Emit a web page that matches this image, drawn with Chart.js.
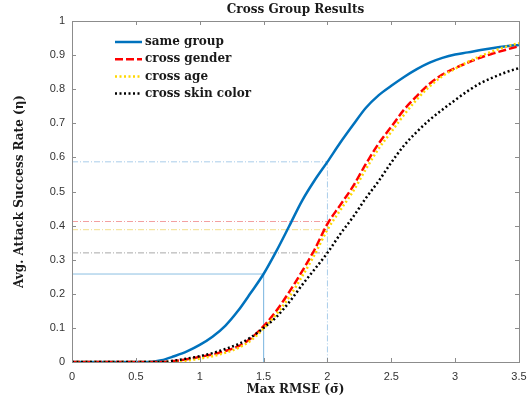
<!DOCTYPE html>
<html>
<head>
    <meta charset="UTF-8">
    <title>Cross Group Results</title>
    <script src="https://cdn.jsdelivr.net/npm/chart.js"></script>
    <style>
        body {
            margin: 0;
            padding: 0;
            background-color: #FFFFFF;
        }
        canvas {
            display: block;
        }
    </style>
</head>
<body>
<canvas id="cross-chart" width="529" height="400"></canvas>

<script>
    // Max RMSE values (x axis)
    const rmse = [0, 0.1, 0.2, 0.3, 0.4, 0.5, 0.6, 0.7, 0.8, 0.9,
        1.0, 1.1, 1.2, 1.3, 1.4, 1.5, 1.6, 1.7, 1.8, 1.9,
        2.0, 2.1, 2.2, 2.3, 2.4, 2.5, 2.6, 2.7, 2.8, 2.9,
        3.0, 3.1, 3.2, 3.3, 3.4, 3.5];

    // Avg. attack success rate per group
    const sameGroup = [0, 0, 0, 0, 0, 0, 0, 0.005, 0.017, 0.031,
        0.05, 0.074, 0.106, 0.15, 0.203, 0.258, 0.325, 0.398, 0.472, 0.533,
        0.587, 0.643, 0.695, 0.745, 0.782, 0.81, 0.836, 0.859, 0.878, 0.892,
        0.902, 0.908, 0.915, 0.921, 0.926, 0.93];
    const crossGender = [0, 0, 0, 0, 0, 0, 0, 0, 0.003, 0.008,
        0.015, 0.022, 0.032, 0.046, 0.069, 0.105, 0.15, 0.205, 0.265, 0.33,
        0.405, 0.46, 0.515, 0.58, 0.64, 0.69, 0.74, 0.78, 0.816, 0.843,
        0.862, 0.878, 0.893, 0.905, 0.916, 0.926];
    const crossAge = [0, 0, 0, 0, 0, 0, 0, 0, 0, 0.004,
        0.01, 0.017, 0.027, 0.041, 0.063, 0.098, 0.14, 0.19, 0.25, 0.315,
        0.388, 0.445, 0.5, 0.565, 0.625, 0.675, 0.725, 0.77, 0.808, 0.838,
        0.86, 0.88, 0.897, 0.912, 0.925, 0.935];
    const crossSkin = [0, 0, 0, 0, 0, 0, 0, 0, 0.004, 0.01,
        0.017, 0.026, 0.038, 0.052, 0.072, 0.1, 0.132, 0.175, 0.225, 0.272,
        0.32, 0.375, 0.425, 0.48, 0.53, 0.585, 0.635, 0.675, 0.71, 0.74,
        0.768, 0.795, 0.818, 0.835, 0.85, 0.862];

    const seriesNames = ['same group', 'cross gender', 'cross age', 'cross skin color'];

    // Reference guide lines: [rmse, rate]
    const guideSame15 = [[0, 0.258], [1.5, 0.258], [1.5, 0]];
    const guideSame20 = [[0, 0.587], [2, 0.587], [2, 0]];
    const guideGender20 = [[0, 0.412], [2, 0.412]];
    const guideAge20 = [[0, 0.388], [2, 0.388]];
    const guideSkin20 = [[0, 0.32], [2, 0.32]];

    const serifBold = 'bold 12px "DejaVu Serif", serif';
    const tickFont = { family: '"Liberation Sans", Arial, sans-serif', size: 11 };
    const axisColor = '#8c8c8c';

    function toPoints(xs, ys) {
        return xs.map((x, i) => ({ x: x, y: ys[i] }));
    }
    function guidePoints(pairs) {
        return pairs.map(p => ({ x: p[0], y: p[1] }));
    }

    function curve(label, values, color, dash, order) {
        return {
            label: label,
            data: toPoints(rmse, values),
            borderColor: color,
            borderWidth: 2.5,
            borderDash: dash,
            pointRadius: 0,
            cubicInterpolationMode: 'monotone',
            order: order
        };
    }
    function guide(points, color, dash) {
        return {
            label: '',
            data: guidePoints(points),
            borderColor: color,
            borderWidth: 1,
            borderDash: dash,
            pointRadius: 0,
            tension: 0,
            order: 10,
            isGuide: true
        };
    }

    const dashDot = [6, 2, 1, 2];

    // Box, inner ticks, titles and legend
    const decorPlugin = {
        id: 'decor',
        afterDraw(chart) {
            const ctx = chart.ctx;
            const area = chart.chartArea;
            const xs = chart.scales.x;
            const ys = chart.scales.y;
            ctx.save();
            ctx.strokeStyle = axisColor;
            ctx.lineWidth = 1;
            ctx.setLineDash([]);
            ctx.strokeRect(Math.round(area.left) + 0.5, Math.round(area.top) + 0.5,
                Math.round(area.right - area.left), Math.round(area.bottom - area.top));
            ctx.beginPath();
            xs.ticks.forEach(t => {
                const px = Math.round(xs.getPixelForValue(t.value)) + 0.5;
                ctx.moveTo(px, area.bottom);
                ctx.lineTo(px, area.bottom - 4);
                ctx.moveTo(px, area.top);
                ctx.lineTo(px, area.top + 4);
            });
            ys.ticks.forEach(t => {
                const py = Math.round(ys.getPixelForValue(t.value)) + 0.5;
                ctx.moveTo(area.left, py);
                ctx.lineTo(area.left + 4, py);
                ctx.moveTo(area.right, py);
                ctx.lineTo(area.right - 4, py);
            });
            ctx.stroke();

            ctx.fillStyle = '#1a1a1a';
            ctx.font = serifBold;
            ctx.textAlign = 'center';
            ctx.textBaseline = 'middle';
            ctx.fillText('Cross Group Results', (area.left + area.right) / 2, 10);
            ctx.fillText('Max RMSE (\u03C3\u0304)', (area.left + area.right) / 2, 390);
            ctx.save();
            ctx.translate(20, (area.top + area.bottom) / 2);
            ctx.rotate(-Math.PI / 2);
            ctx.fillText('Avg. Attack Success Rate (\u03B7)', 0, 0);
            ctx.restore();

            // legend
            ctx.textAlign = 'left';
            chart.data.datasets.filter(d => !d.isGuide).forEach((d, i) => {
                const y = 42 + i * 17.2;
                ctx.strokeStyle = d.borderColor;
                ctx.lineWidth = d.borderWidth;
                ctx.setLineDash(d.borderDash || []);
                ctx.beginPath();
                ctx.moveTo(115, y);
                ctx.lineTo(142, y);
                ctx.stroke();
                ctx.fillText(d.label, 145, y);
            });
            ctx.restore();
        }
    };

    const ctx = document.getElementById('cross-chart').getContext('2d');
    new Chart(ctx, {
        type: 'line',
        data: {
            datasets: [
                curve(seriesNames[0], sameGroup, '#0072BD', [], 4),
                curve(seriesNames[1], crossGender, '#FF0000', [8, 3], 3),
                curve(seriesNames[2], crossAge, '#FFD700', [2, 2.5], 2),
                curve(seriesNames[3], crossSkin, '#000000', [2, 2.5], 1),
                guide(guideSame15, '#8cbfe3', []),
                guide(guideSame20, '#a9cdea', dashDot),
                guide(guideGender20, '#f3a0a0', dashDot),
                guide(guideAge20, '#f2df8c', dashDot),
                guide(guideSkin20, '#a8a8a8', dashDot)
            ]
        },
        options: {
            responsive: false,
            animation: false,
            maintainAspectRatio: false,
            layout: { padding: { top: 21, right: 10, left: 0, bottom: 0 } },
            plugins: {
                legend: { display: false },
                title: { display: false },
                tooltip: { enabled: false }
            },
            scales: {
                x: {
                    type: 'linear',
                    min: 0,
                    max: 3.5,
                    grid: { display: false, drawTicks: false },
                    border: { display: false },
                    ticks: {
                        stepSize: 0.5,
                        padding: 8,
                        maxRotation: 0,
                        autoSkip: false,
                        color: '#333333',
                        font: tickFont,
                        callback: v => String(+v.toFixed(1))
                    },
                    afterFit: s => { s.height = 38; s.paddingLeft = 0; s.paddingRight = 0; }
                },
                y: {
                    min: 0,
                    max: 1,
                    grid: { display: false, drawTicks: false },
                    border: { display: false },
                    ticks: {
                        stepSize: 0.1,
                        padding: 7,
                        autoSkip: false,
                        color: '#333333',
                        font: tickFont,
                        callback: v => String(+v.toFixed(1))
                    },
                    afterFit: s => { s.width = 72; s.paddingTop = 0; s.paddingBottom = 0; }
                }
            }
        },
        plugins: [decorPlugin]
    });
</script>
</body>
</html>
